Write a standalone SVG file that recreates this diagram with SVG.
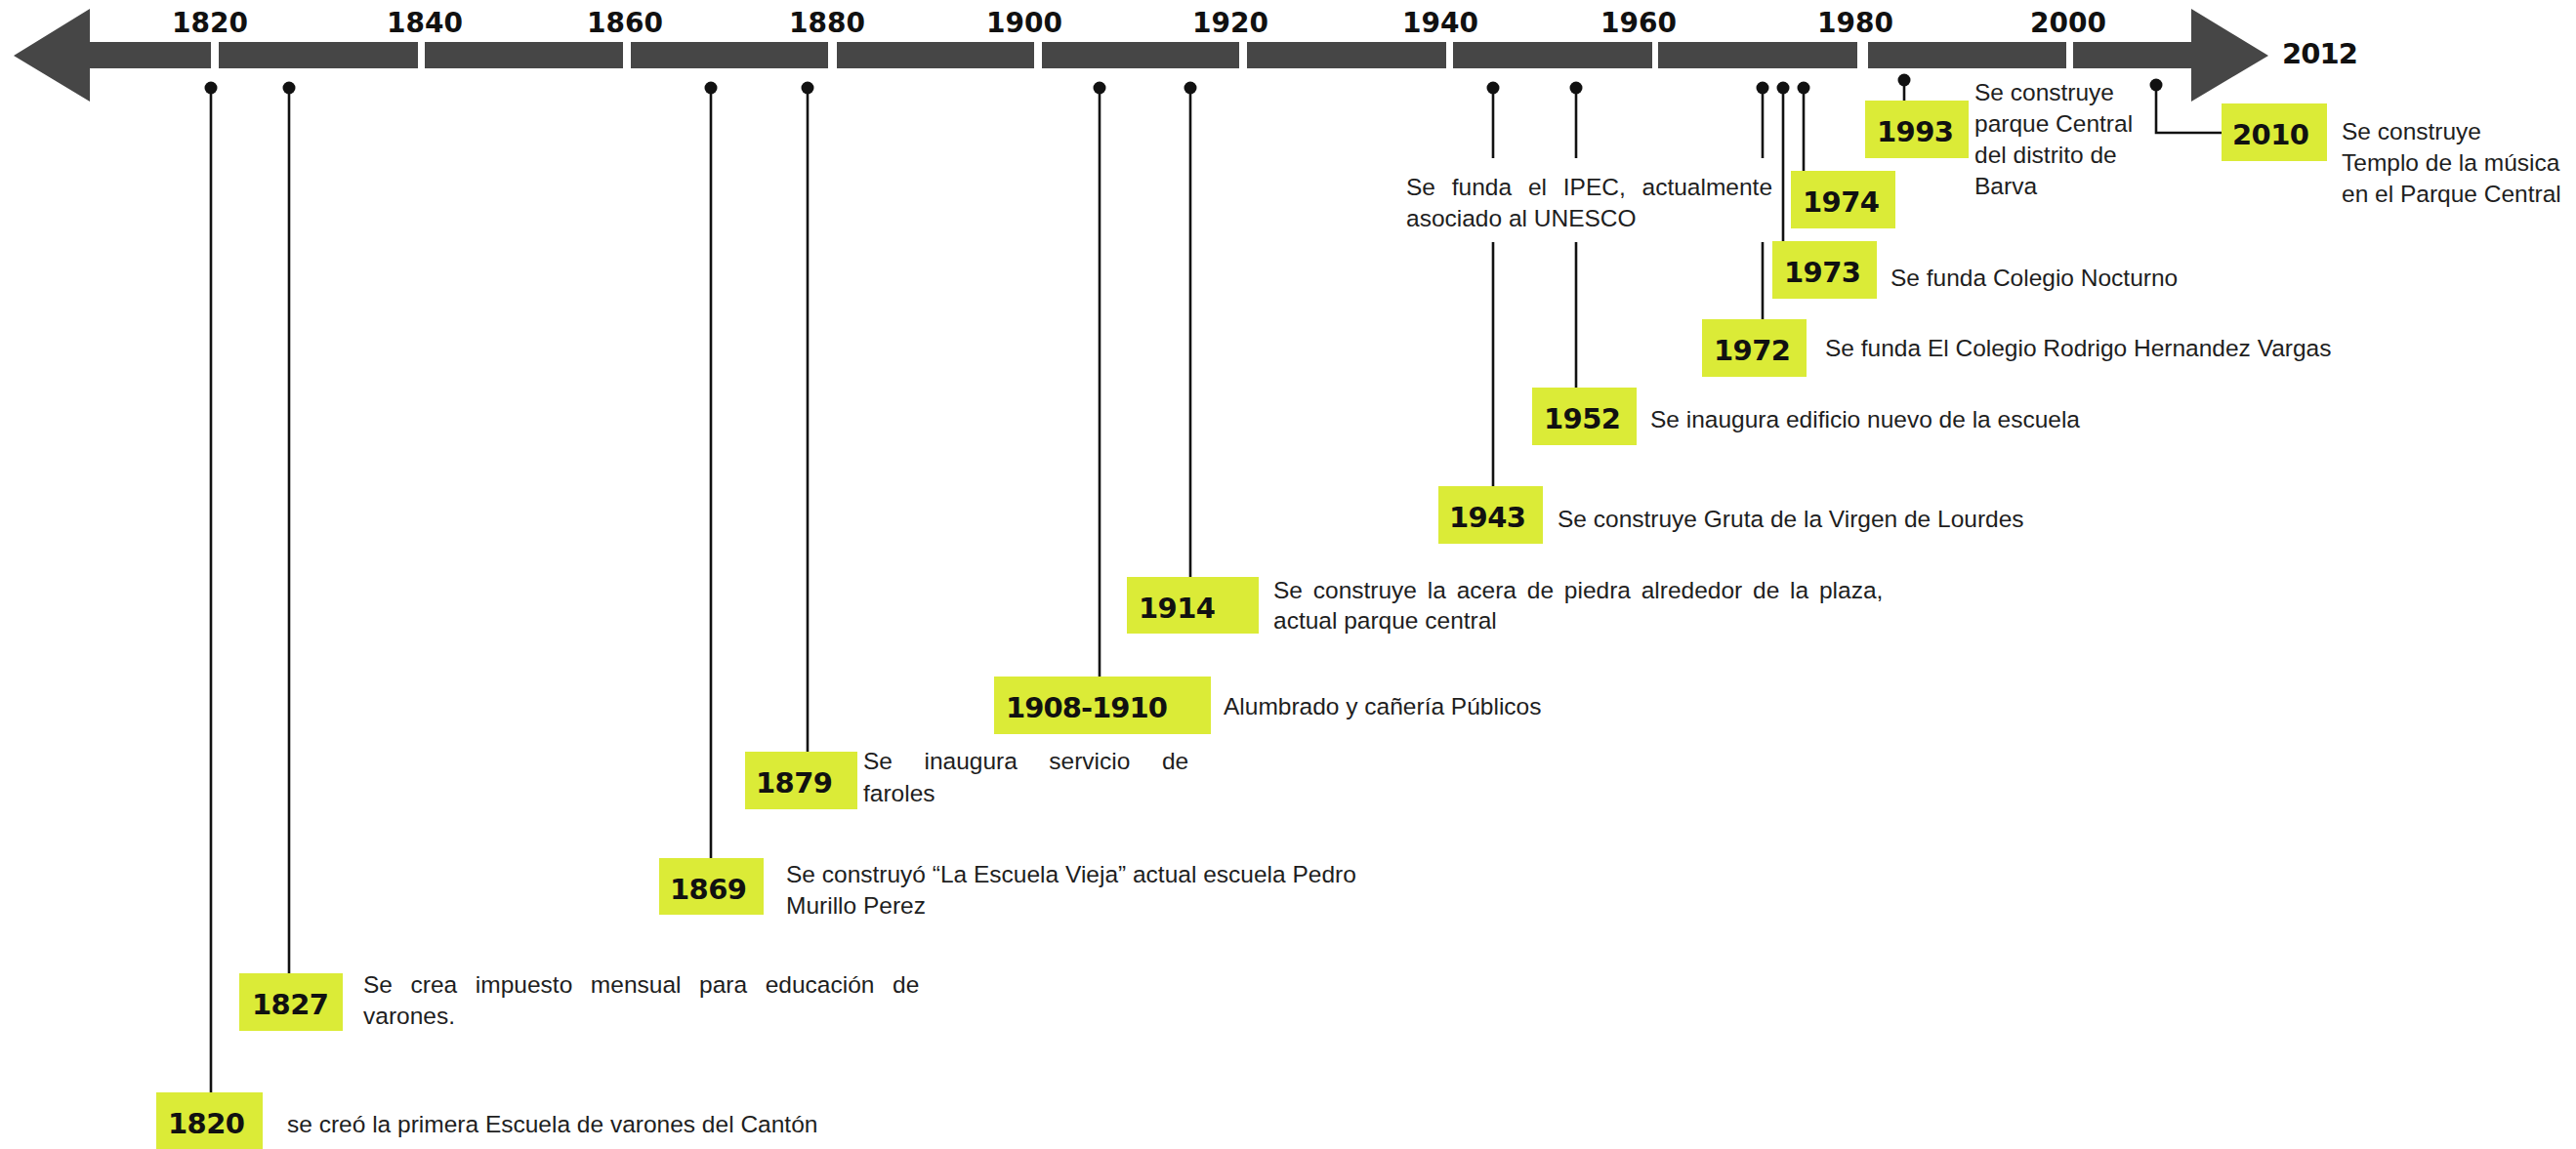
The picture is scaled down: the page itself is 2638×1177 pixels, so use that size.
<svg xmlns="http://www.w3.org/2000/svg" width="2638" height="1177" viewBox="0 0 2638 1177">
<style>
.bar{fill:#464646}
.box{fill:#dbeb37}
.yr{font-family:"DejaVu Sans","Liberation Sans",sans-serif;font-weight:bold;font-size:29px;fill:#111}
.ax{font-family:"DejaVu Sans","Liberation Sans",sans-serif;font-weight:bold;font-size:28px;fill:#111;text-anchor:middle}
.d{font-family:"Liberation Sans",Arial,sans-serif;font-size:24.5px;fill:#1e1e1e}
.ln{stroke:#111;stroke-width:2.6;fill:none}
.pin{fill:#111}
</style>
<rect width="2638" height="1177" fill="#fff"/>
<g id="axis">
<polygon class="bar" points="14,57 92,9 92,43 216,43 216,70 92,70 92,104"/>
<rect class="bar" x="224" y="43" width="204" height="27"/>
<rect class="bar" x="435" y="43" width="203" height="27"/>
<rect class="bar" x="646" y="43" width="202" height="27"/>
<rect class="bar" x="857" y="43" width="202" height="27"/>
<rect class="bar" x="1067" y="43" width="202" height="27"/>
<rect class="bar" x="1277" y="43" width="204" height="27"/>
<rect class="bar" x="1488" y="43" width="204" height="27"/>
<rect class="bar" x="1698" y="43" width="204" height="27"/>
<rect class="bar" x="1913" y="43" width="203" height="27"/>
<polygon class="bar" points="2123,43 2244,43 2244,9 2323,57 2244,104 2244,70 2123,70"/>
<text class="ax" x="215" y="33">1820</text>
<text class="ax" x="435" y="33">1840</text>
<text class="ax" x="640" y="33">1860</text>
<text class="ax" x="847" y="33">1880</text>
<text class="ax" x="1049" y="33">1900</text>
<text class="ax" x="1260" y="33">1920</text>
<text class="ax" x="1475" y="33">1940</text>
<text class="ax" x="1678" y="33">1960</text>
<text class="ax" x="1900" y="33">1980</text>
<text class="ax" x="2118" y="33">2000</text>
<text class="yr" x="2337" y="65" textLength="78">2012</text>
</g>
<g id="connectors">
<path class="ln" d="M216,90V1119 M296,90V997 M728,90V879 M827,90V770 M1126,90V693 M1219,90V591 M1529,90V162 M1529,248V498 M1614,90V162 M1614,248V397 M1805,90V162 M1805,248V327 M1826,90V247 M1847,90V175 M1950,82V103"/>
<path class="ln" stroke-width="2.8" d="M2208,87V136H2275"/>
<g class="pin">
<circle cx="216" cy="90" r="6.5"/>
<circle cx="296" cy="90" r="6.5"/>
<circle cx="728" cy="90" r="6.5"/>
<circle cx="827" cy="90" r="6.5"/>
<circle cx="1126" cy="90" r="6.5"/>
<circle cx="1219" cy="90" r="6.5"/>
<circle cx="1529" cy="90" r="6.5"/>
<circle cx="1614" cy="90" r="6.5"/>
<circle cx="1805" cy="90" r="6.5"/>
<circle cx="1826" cy="90" r="6.5"/>
<circle cx="1847" cy="90" r="6.5"/>
<circle cx="1950" cy="82" r="6.5"/>
<circle cx="2208" cy="87" r="6.5"/>
</g>
</g>
<g id="e1820">
<rect class="box" x="160" y="1119" width="109" height="58"/>
<text class="yr" x="172" y="1161" textLength="79">1820</text>
<text class="d" x="294" y="1160">se creó la primera Escuela de varones del Cantón</text>
</g>
<g id="e1827">
<rect class="box" x="245" y="997" width="106" height="59"/>
<text class="yr" x="258" y="1039" textLength="79">1827</text>
<text class="d" x="372" y="1017" word-spacing="11.8">Se crea impuesto mensual para educación de</text>
<text class="d" x="372" y="1049">varones.</text>
</g>
<g id="e1869">
<rect class="box" x="675" y="879" width="107" height="58"/>
<text class="yr" x="686" y="921" textLength="79">1869</text>
<text class="d" x="805" y="904">Se construyó “La Escuela Vieja” actual escuela Pedro</text>
<text class="d" x="805" y="936">Murillo Perez</text>
</g>
<g id="e1879">
<rect class="box" x="763" y="770" width="115" height="59"/>
<text class="yr" x="774" y="812" textLength="79">1879</text>
<text class="d" x="884" y="788" word-spacing="25.7">Se inaugura servicio de</text>
<text class="d" x="884" y="821">faroles</text>
</g>
<g id="e1908">
<rect class="box" x="1018" y="693" width="222" height="59"/>
<text class="yr" x="1030" y="735" textLength="166">1908-1910</text>
<text class="d" x="1253" y="732">Alumbrado y cañería Públicos</text>
</g>
<g id="e1914">
<rect class="box" x="1154" y="591" width="135" height="58"/>
<text class="yr" x="1166" y="633" textLength="79">1914</text>
<text class="d" x="1304" y="613" word-spacing="4">Se construye la acera de piedra alrededor de la plaza,</text>
<text class="d" x="1304" y="644">actual parque central</text>
</g>
<g id="ipec">
<text class="d" x="1440" y="200" word-spacing="10">Se funda el IPEC, actualmente</text>
<text class="d" x="1440" y="232">asociado al UNESCO</text>
</g>
<g id="e1943">
<rect class="box" x="1473" y="498" width="107" height="59"/>
<text class="yr" x="1484" y="540" textLength="79">1943</text>
<text class="d" x="1595" y="540">Se construye Gruta de la Virgen de Lourdes</text>
</g>
<g id="e1952">
<rect class="box" x="1569" y="397" width="107" height="59"/>
<text class="yr" x="1581" y="439" textLength="79">1952</text>
<text class="d" x="1690" y="438">Se inaugura edificio nuevo de la escuela</text>
</g>
<g id="e1972">
<rect class="box" x="1743" y="327" width="107" height="59"/>
<text class="yr" x="1755" y="369" textLength="79">1972</text>
<text class="d" x="1869" y="365">Se funda El Colegio Rodrigo Hernandez Vargas</text>
</g>
<g id="e1973">
<rect class="box" x="1815" y="247" width="107" height="59"/>
<text class="yr" x="1827" y="289" textLength="79">1973</text>
<text class="d" x="1936" y="293">Se funda Colegio Nocturno</text>
</g>
<g id="e1974">
<rect class="box" x="1834" y="175" width="107" height="59"/>
<text class="yr" x="1846" y="217" textLength="79">1974</text>
</g>
<g id="e1993">
<rect class="box" x="1910" y="103" width="106" height="59"/>
<text class="yr" x="1922" y="145" textLength="79">1993</text>
<text class="d" x="2022" y="103">Se construye</text>
<text class="d" x="2022" y="135">parque Central</text>
<text class="d" x="2022" y="167">del distrito de</text>
<text class="d" x="2022" y="199">Barva</text>
</g>
<g id="e2010">
<rect class="box" x="2275" y="106" width="108" height="59"/>
<text class="yr" x="2286" y="148" textLength="79">2010</text>
<text class="d" x="2398" y="143">Se construye</text>
<text class="d" x="2398" y="175">Templo de la música</text>
<text class="d" x="2398" y="207">en el Parque Central</text>
</g>
</svg>
